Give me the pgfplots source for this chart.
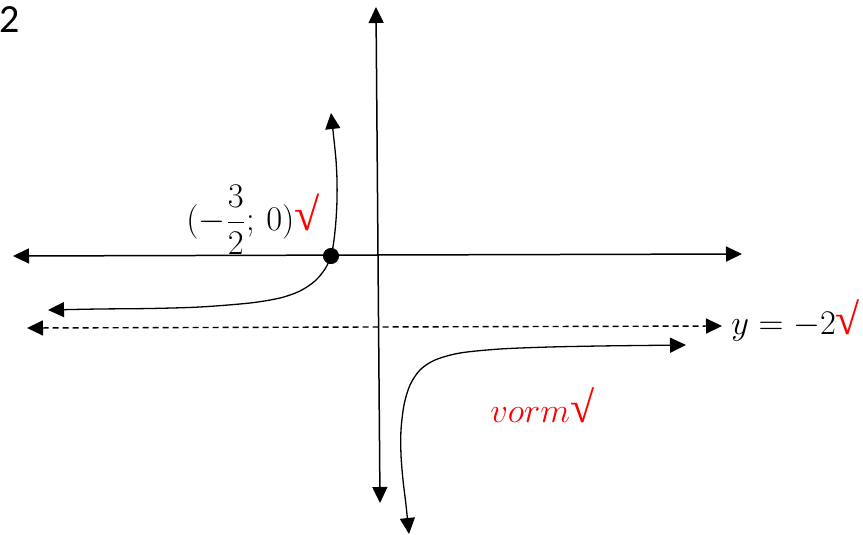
\documentclass[border=0pt]{standalone}
\usepackage{amsmath}
\usepackage{pgfplots}
\pgfplotsset{compat=1.18}
\usepackage{fontspec}
\setmainfont{Carlito}
\newfontfamily\symfont{Liberation Serif}
\usetikzlibrary{arrows.meta}
\tikzset{tri/.tip={Triangle[length=8pt,width=7.5pt]}}
\newcommand{\tick}[1][21]{\textcolor{red}{\symfont\fontsize{#1}{#1}\selectfont √}}
\begin{document}
\begin{tikzpicture}
\begin{axis}[
  x=0.5pt, y=0.5pt,
  xmin=0, xmax=863, ymin=0, ymax=535, y dir=reverse,
  axis lines=none, clip=false,
]
% x-axis and y-axis
\addplot[line width=0.75pt, tri-tri] coordinates {(13,256) (742,254)};
\addplot[line width=0.75pt, tri-tri] coordinates {(376,7) (380,503)};
% horizontal asymptote
\addplot[line width=0.7pt, dash pattern=on 3pt off 2pt, tri-tri] coordinates {(27,328) (722,326)};
% left branch
\addplot[line width=0.65pt, smooth, tri-tri] coordinates {
  (48,310) (100,309) (150,308.5) (200,307) (250,303) (280,298) (300,291)
  (315,281) (325,269) (331,256) (334,240) (336,220) (337,200) (337,180)
  (336,160) (334,140) (331,113)};
% right branch
\addplot[line width=0.65pt, smooth, tri-tri] coordinates {
  (686,345) (640,345.5) (600,346) (550,347) (500,349) (460,353) (435,360)
  (420,370) (410,385) (404,405) (401,430) (401,455) (403,480) (406,505) (409,534)};
% x-intercept
\addplot[only marks, mark=*, mark size=3.8pt, black] coordinates {(331,256)};
% labels
\node[anchor=base west, inner sep=0pt, font=\fontsize{20}{20}\selectfont] at (axis cs:-1,33) {2};
\node[anchor=base west, inner sep=0pt, font=\fontsize{18}{18}\selectfont] at (axis cs:186,231) {$(-\dfrac{3}{2};\,0)$\tick[23]};
\node[anchor=base west, inner sep=0pt, font=\fontsize{17}{18}\selectfont] at (axis cs:731,334) {$y=-2$\tick[22]};
\node[anchor=base west, inner sep=0pt, font=\fontsize{17}{18}\selectfont, red] at (axis cs:490,422) {$vorm$\tick[22]};
\end{axis}
\pgfresetboundingbox
\path (current axis.south west) rectangle (current axis.north east);
\end{tikzpicture}
\end{document}
